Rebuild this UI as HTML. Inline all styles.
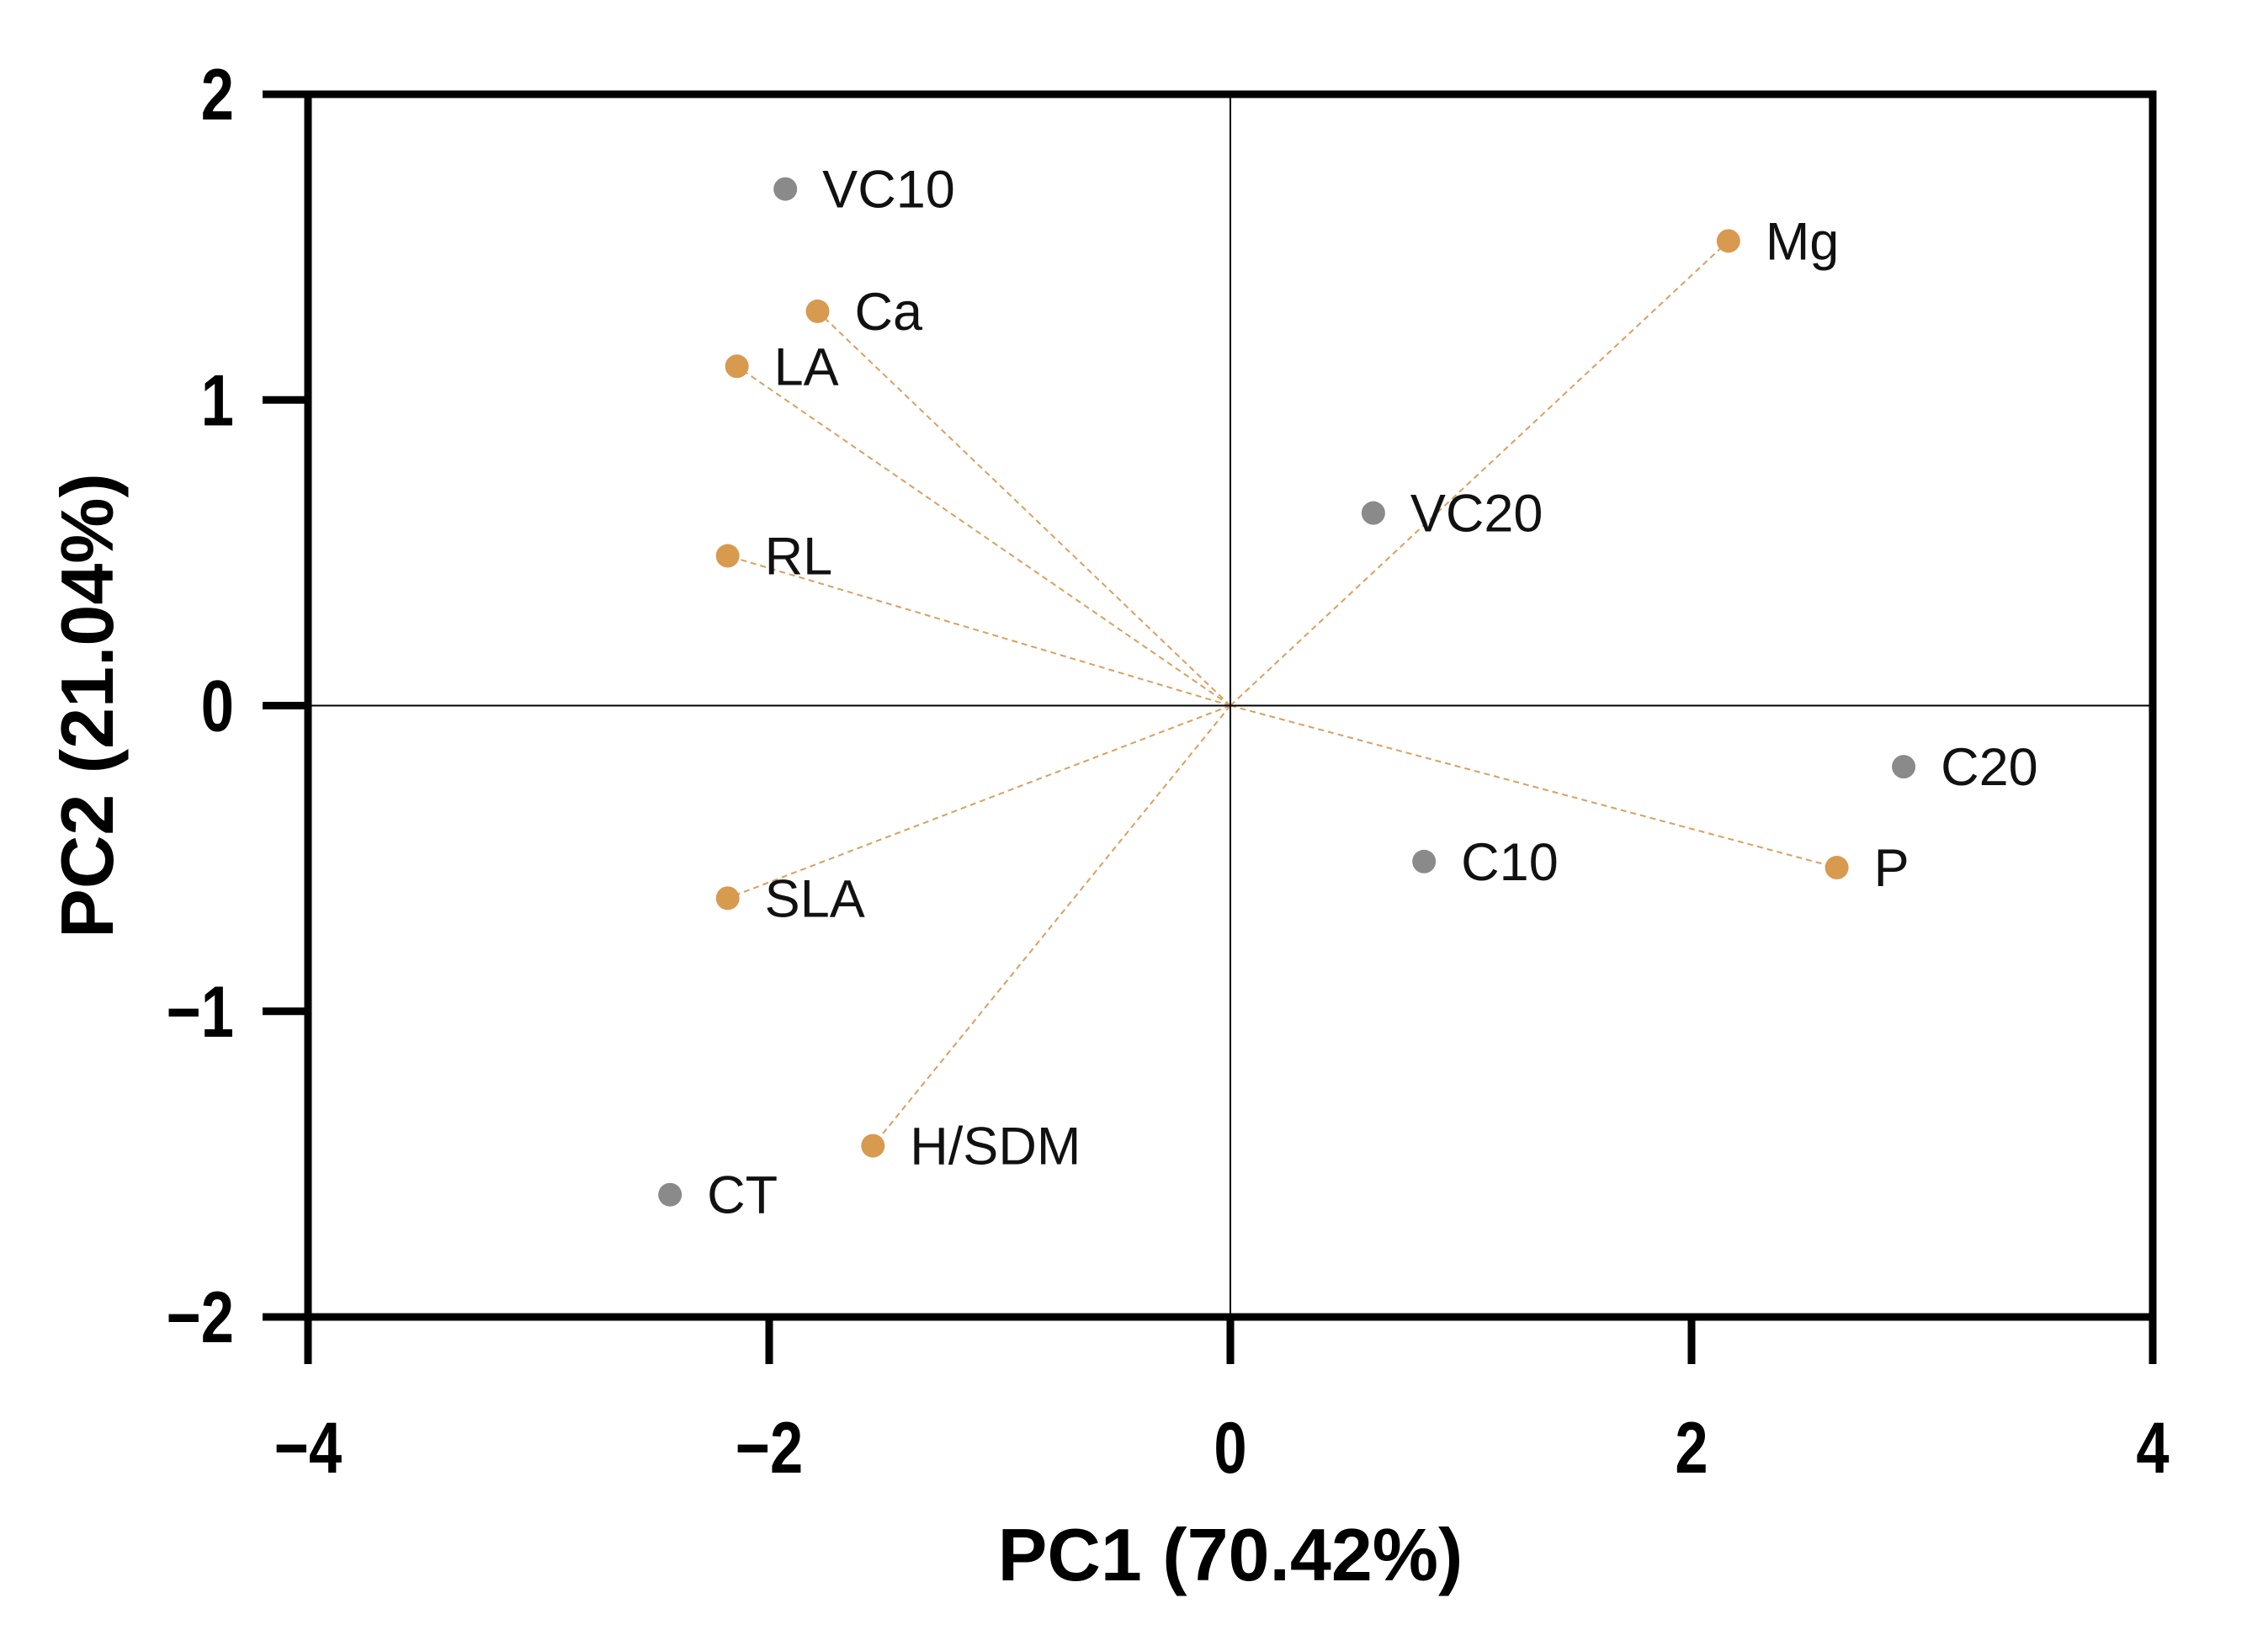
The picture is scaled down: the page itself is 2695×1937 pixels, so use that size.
<!DOCTYPE html>
<html><head><meta charset="utf-8"><style>
html,body{margin:0;padding:0;background:#fff;}
svg{display:block;font-family:"Liberation Sans",Arial,sans-serif;}
</style></head><body>
<svg id="chart" width="2695" height="1937" viewBox="0 0 2695 1937" xmlns="http://www.w3.org/2000/svg">
<g id="vectors"></g>
<g id="grid"></g>
<g id="points"></g>
<g id="axes"></g>
</svg>
<script>
const labels = ["VC10","Ca","LA","RL","SLA","H/SDM","CT","VC20","Mg","C20","C10","P"];
const pc1 = [-1.93,-1.79,-2.14,-2.18,-2.18,-1.55,-2.43,0.62,2.16,2.92,0.84,2.63];
const pc2 = [1.69,1.29,1.11,0.49,-0.63,-1.44,-1.60,0.63,1.52,-0.20,-0.51,-0.53];
const kinds = ["sample","variable","variable","variable","variable","variable","sample","sample","variable","sample","sample","variable"];
const xTicks = [-4,-2,0,2,4];
const yTicks = [-2,-1,0,1,2];
const xTickLabels = ["\u22124","\u22122","0","2","4"];
const yTickLabels = ["\u22122","\u22121","0","1","2"];

const L=366,R=2558,T=112,B=1565;
const X=v=>L+(v+4)/8*(R-L);
const Y=v=>B-(v+2)/4*(B-T);
const NS="http://www.w3.org/2000/svg";
function mk(tag,attrs,parent){const e=document.createElementNS(NS,tag);for(const k in attrs)e.setAttribute(k,attrs[k]);parent.appendChild(e);return e;}
const gv=document.getElementById('vectors'),gg=document.getElementById('grid'),gp=document.getElementById('points'),ga=document.getElementById('axes');

let e=mk('line',{x1:X(0),y1:T,x2:X(0),y2:B,stroke:'#000','stroke-width':2},gg);


e=mk('line',{x1:L,y1:Y(0),x2:R,y2:Y(0),stroke:'#000','stroke-width':2},gg);



labels.forEach((lab,i)=>{
  const cx=X(pc1[i]),cy=Y(pc2[i]);
  const col=kinds[i]==='variable'?'#d79a4f':'#8a8a8a';
  if(kinds[i]==='variable'){
    const v=mk('line',{x1:X(0),y1:Y(0),x2:cx,y2:cy,stroke:'#d8a060','stroke-width':2,'stroke-dasharray':'7 5'},gv);
    
    
  }
  const c=mk('circle',{cx:cx,cy:cy,r:14,fill:col},gp);
  
  
  const t=mk('text',{x:cx+44,y:cy+22,'font-size':63,fill:'#111'},gp);
  t.textContent=lab;
  
  
});

e=mk('rect',{x:L,y:T,width:R-L,height:B-T,fill:'none',stroke:'#000','stroke-width':9},ga);



xTicks.forEach((v,i)=>{
  const tk=mk('line',{x1:X(v),y1:B,x2:X(v),y2:B+56,stroke:'#000','stroke-width':9},ga);
  
  
  const t=mk('text',{x:0,y:0,'font-size':86,'font-weight':'bold','text-anchor':'middle',transform:'translate('+X(v)+',1750) scale(0.82,1)'},ga);
  t.textContent=xTickLabels[i];
  
  
});
yTicks.forEach((v,i)=>{
  const tk=mk('line',{x1:L-54,y1:Y(v),x2:L,y2:Y(v),stroke:'#000','stroke-width':9},ga);
  
  
  const t=mk('text',{x:0,y:0,'font-size':86,'font-weight':'bold','text-anchor':'end',transform:'translate(278,'+(Y(v)+30)+') scale(0.82,1)'},ga);
  t.textContent=yTickLabels[i];
  
  
});

e=mk('text',{x:X(0),y:1878,'font-size':88,'font-weight':'bold','text-anchor':'middle'},ga);
e.textContent='PC1 (70.42%)';


e=mk('text',{x:0,y:0,'font-size':88,'font-weight':'bold','text-anchor':'middle',transform:'translate(134,'+Y(0)+') rotate(-90)'},ga);
e.textContent='PC2 (21.04%)';


</script>
</body></html>
